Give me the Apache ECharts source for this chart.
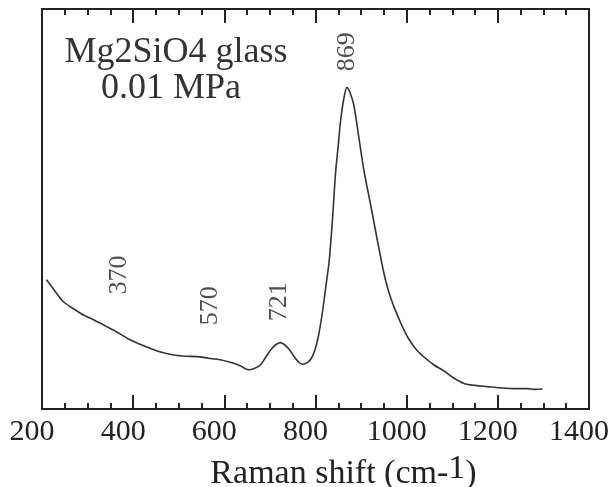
<!DOCTYPE html>
<html>
<head>
<meta charset="utf-8">
<script src="https://cdn.jsdelivr.net/npm/echarts@6/dist/echarts.min.js"></script>
<style>
  html, body { margin: 0; padding: 0; background: #fff; }
  #chart { width: 613px; height: 487px; }
</style>
</head>
<body>
<div id="chart"></div>
<script>
// 拉曼位移 (cm-1)
var shift = [210, 225, 247, 270, 291, 315, 342, 368, 393, 415, 437, 462, 489, 515, 540, 565, 591, 615, 635, 653,
    667, 679, 690, 701, 712, 723, 733, 743, 755, 765, 772, 782, 790, 798, 806, 815, 822, 830, 837, 844,
    850, 855, 862, 869, 876, 884, 895, 906, 921, 936, 950, 960, 972, 987, 1002, 1020, 1038, 1060, 1082, 1104,
    1126, 1150, 1177, 1205, 1236, 1265, 1280, 1298];
// 强度 (任意单位)
var intensity = [32.3, 30, 26.8, 25, 23.5, 22.2, 20.6, 19, 17.3, 16.2, 15.2, 14.2, 13.5, 13.2, 13.1, 12.7, 12.3, 11.6, 10.8, 9.8,
    10.2, 11, 12.8, 14.7, 16, 16.6, 16, 14.8, 12.8, 11.5, 11.2, 11.6, 12.5, 14.5, 18, 24, 30, 37, 47, 59,
    66, 72, 77.5, 80.4, 79, 76, 68, 59.8, 51, 42, 34, 29.5, 25.6, 21.5, 18, 15, 13, 11, 9.5, 7.7,
    6.4, 5.9, 5.6, 5.3, 5.1, 5.1, 4.9, 5];
// 峰位标注
var peakNames = ['370', '570', '721', '869'];
var peakX = [370, 570, 721, 869];
var peakLabelY = [33.5, 25.8, 26.8, 89.3];

var xTicks = [200, 1400, 200];

var lineData = [];
shift.forEach(function (s, i) {
    lineData.push([s, intensity[i]]);
});
var peakData = [];
peakNames.forEach(function (n, i) {
    peakData.push({ name: n, value: [peakX[i], peakLabelY[i]] });
});

var box = document.getElementById('chart');
var myChart = echarts.init(box);

var serif = '"Liberation Serif", "Times New Roman", serif';
var axisCommon = {
    type: 'value',
    min: xTicks[0],
    max: xTicks[1],
    interval: xTicks[2],
    axisLine: { show: true, onZero: false, lineStyle: { color: '#222', width: 2 } },
    axisTick: { show: true, inside: true, length: 14, lineStyle: { color: '#222', width: 2 } },
    minorTick: { show: true, splitNumber: 4, length: 6, lineStyle: { color: '#222', width: 2 } },
    splitLine: { show: false }
};

var option = {
    animation: false,
    backgroundColor: '#fff',
    grid: {
        left: 42, right: 24, top: 9, bottom: 78,
        outerBoundsMode: 'none',
        containLabel: false,
        show: true, borderColor: '#222', borderWidth: 2
    },
    xAxis: [
        Object.assign({}, axisCommon, {
            position: 'bottom',
            name: 'Raman shift (cm-{sup|1})',
            nameLocation: 'middle',
            nameGap: 39,
            nameTextStyle: {
                fontFamily: serif, fontSize: 34, color: '#222',
                padding: [0, 0, 0, 56],
                rich: { sup: { fontFamily: serif, fontSize: 34, color: '#222', verticalAlign: 'bottom', padding: [0, 0, 10, 0] } }
            },
            axisLabel: {
                fontFamily: serif, fontSize: 30, color: '#222', margin: 8,
                padding: [0, 20, 0, 0],
                formatter: function (v) { return String(v); }
            }
        }),
        Object.assign({}, axisCommon, {
            position: 'top',
            axisLabel: { show: false }
        })
    ],
    yAxis: {
        type: 'value',
        min: 0,
        max: 100,
        axisLine: { show: false },
        axisTick: { show: false },
        axisLabel: { show: false },
        splitLine: { show: false }
    },
    graphic: [
        { type: 'text', x: 176, y: 53, style: { text: 'Mg2SiO4 glass', font: '36px ' + serif, fill: '#333', align: 'center', verticalAlign: 'middle' } },
        { type: 'text', x: 171, y: 89, style: { text: '0.01 MPa', font: '36px ' + serif, fill: '#333', align: 'center', verticalAlign: 'middle' } }
    ],
    series: [
        {
            type: 'line',
            data: lineData,
            showSymbol: false,
            smooth: 0.3,
            lineStyle: { color: '#333', width: 1.6 }
        },
        {
            type: 'scatter',
            data: peakData,
            symbolSize: 0,
            label: {
                show: true,
                formatter: '{b}',
                position: 'inside',
                rotate: 90,
                align: 'center',
                verticalAlign: 'middle',
                fontFamily: serif,
                fontSize: 26,
                color: '#222'
            }
        }
    ]
};

myChart.setOption(option);
</script>
</body>
</html>
